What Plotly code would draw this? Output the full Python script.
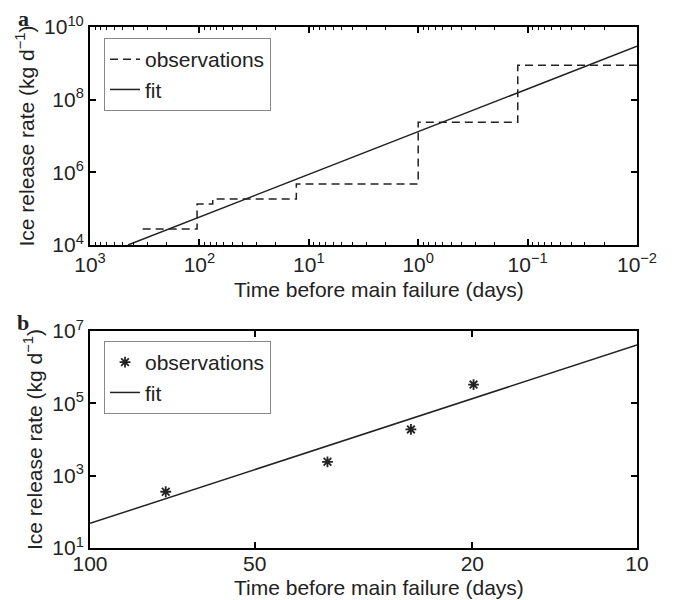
import plotly.graph_objects as go

# ---------------- data ----------------
# panel a: step observations (hv steps) and power-law fit
obs_a_t = [330, 105, 75.5, 13, 1.0, 0.123, 0.01]
obs_a_rate = [2.75e4, 1.34e5, 1.84e5, 4.8e5, 2.4e7, 8.8e8, 8.8e8]
fit_a_t = [450, 0.01]
fit_a_rate = [1.0e4, 2.96e9]

# panel b: point observations and fit
obs_b_t = [72.7, 36.8, 25.9, 19.9]
obs_b_rate = [359, 2420, 1.9e4, 3.3e5]
fit_b_t = [100, 10]
fit_b_rate = [48, 4.1e6]

# ticks
xa_tickvals = [1e3, 1e2, 1e1, 1e0, 1e-1, 1e-2]
xa_ticktext = ["10<sup>3</sup>", "10<sup>2</sup>", "10<sup>1</sup>", "10<sup>0</sup>",
               "10<sup>−1</sup>", "10<sup>−2</sup>"]
ya_tickvals = [1e4, 1e6, 1e8, 1e10]
ya_ticktext = ["10<sup>4</sup>", "10<sup>6</sup>", "10<sup>8</sup>", "10<sup>10</sup>"]
xb_tickvals = [100, 50, 20, 10]
xb_ticktext = ["100", "50", "20", "10"]
yb_tickvals = [1e1, 1e3, 1e5, 1e7]
yb_ticktext = ["10<sup>1</sup>", "10<sup>3</sup>", "10<sup>5</sup>", "10<sup>7</sup>"]

x_title = "Time before main failure (days)"
y_title = "Ice release rate (kg d<sup>−1</sup>)"

# ---------------- figure ----------------
W, H = 675, 600
FONT = "Liberation Sans, Arial, sans-serif"
fs = 21
TXT = "#222222"

fig = go.Figure()
fig.add_trace(go.Scatter(x=obs_a_t, y=obs_a_rate, mode="lines", line_shape="hv",
                         name="observations",
                         line=dict(color=TXT, width=1.5, dash="8px,5px"),
                         xaxis="x", yaxis="y", legend="legend"))
fig.add_trace(go.Scatter(x=fit_a_t, y=fit_a_rate, mode="lines", name="fit",
                         line=dict(color=TXT, width=1.5),
                         xaxis="x", yaxis="y", legend="legend"))
fig.add_trace(go.Scatter(x=obs_b_t, y=obs_b_rate, mode="markers", name="observations",
                         marker=dict(symbol="asterisk-open", size=9, color=TXT,
                                     line=dict(color=TXT, width=1.8)),
                         xaxis="x2", yaxis="y2", legend="legend2"))
fig.add_trace(go.Scatter(x=fit_b_t, y=fit_b_rate, mode="lines", name="fit",
                         line=dict(color=TXT, width=1.5),
                         xaxis="x2", yaxis="y2", legend="legend2"))

x0, x1 = 90 / W, 637 / W
ya_dom = [1 - 245 / H, 1 - 27 / H]
yb_dom = [1 - 548 / H, 1 - 331 / H]

minor_a = [m * 10.0 ** e for e in range(-2, 3) for m in range(2, 10)]

common = dict(showline=True, linecolor="black", linewidth=2, mirror="ticks",
              ticks="inside", ticklen=6, tickwidth=1.5, tickcolor="black",
              showgrid=False, zeroline=False, automargin=False,
              tickfont=dict(family=FONT, size=fs, color=TXT),
              tickmode="array")

ytitle_font = dict(family=FONT, size=fs, color=TXT)

fig.update_layout(
    width=W, height=H,
    margin=dict(l=0, r=0, t=0, b=0),
    paper_bgcolor="white", plot_bgcolor="white",
    font=dict(family=FONT, size=fs, color=TXT),
    showlegend=True,
    xaxis=dict(domain=[x0, x1], anchor="y", type="log", range=[3, -2],
               tickvals=xa_tickvals, ticktext=xa_ticktext,
               minor=dict(tickvals=minor_a, ticks="inside", ticklen=3,
                          tickwidth=1, tickcolor="black"),
               **common),
    yaxis=dict(domain=ya_dom, anchor="x", type="log", range=[4, 10],
               tickvals=ya_tickvals, ticktext=ya_ticktext,
               title=dict(text=y_title, font=ytitle_font, standoff=4),
               **common),
    xaxis2=dict(domain=[x0, x1], anchor="y2", type="log", range=[2, 1],
                tickvals=xb_tickvals, ticktext=xb_ticktext,
                ticklabelstandoff=-4,
                **common),
    yaxis2=dict(domain=yb_dom, anchor="x2", type="log", range=[1, 7],
                tickvals=yb_tickvals, ticktext=yb_ticktext,
                title=dict(text=y_title, font=ytitle_font, standoff=4),
                **common),
    legend=dict(x=104 / W, y=1 - 38 / H, xanchor="left", yanchor="top",
                bgcolor="white", bordercolor="#888888", borderwidth=1,
                font=dict(family=FONT, size=fs, color=TXT),
                tracegroupgap=0),
    legend2=dict(x=104 / W, y=1 - 341 / H, xanchor="left", yanchor="top",
                 bgcolor="white", bordercolor="#888888", borderwidth=1,
                 font=dict(family=FONT, size=fs, color=TXT),
                 tracegroupgap=0),
    annotations=[
        dict(text=x_title, x=379 / W, y=1 - 289 / H, xref="paper", yref="paper",
             xanchor="center", yanchor="middle", showarrow=False,
             font=dict(family=FONT, size=fs, color=TXT)),
        dict(text=x_title, x=379 / W, y=1 - 587 / H, xref="paper", yref="paper",
             xanchor="center", yanchor="middle", showarrow=False,
             font=dict(family=FONT, size=fs, color=TXT)),
        dict(text="<b>a</b>", x=23 / W, y=1 - 18 / H, xref="paper", yref="paper",
             xanchor="center", yanchor="middle", showarrow=False,
             font=dict(family="Liberation Serif, Times New Roman, serif", size=22, color=TXT)),
        dict(text="<b>b</b>", x=23 / W, y=1 - 322 / H, xref="paper", yref="paper",
             xanchor="center", yanchor="middle", showarrow=False,
             font=dict(family="Liberation Serif, Times New Roman, serif", size=22, color=TXT)),
    ],
)

fig.write_html("out.html")
